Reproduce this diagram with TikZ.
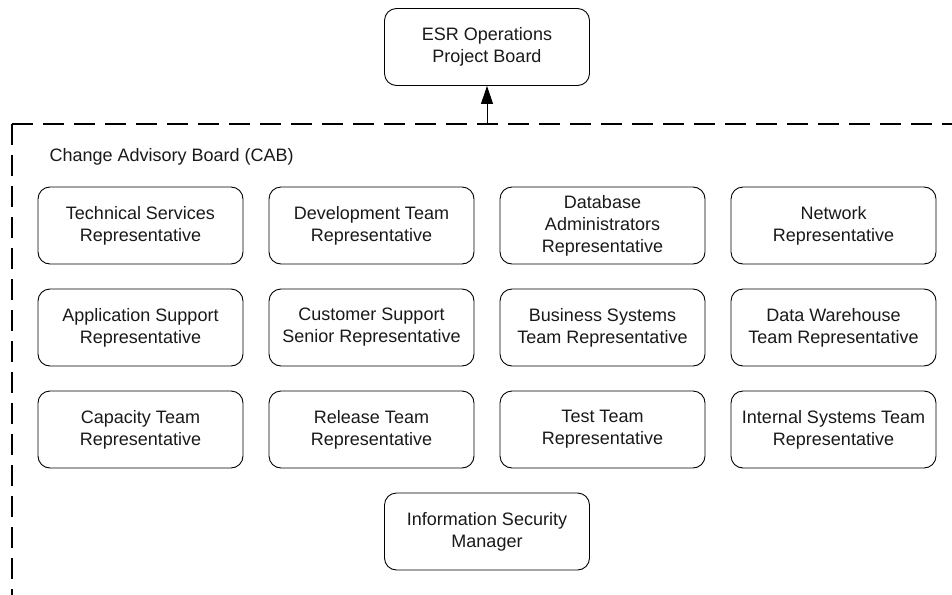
\documentclass[tikz,border=0pt]{standalone}
\usepackage{fontspec}
\setmainfont{Liberation Sans}
\usetikzlibrary{arrows.meta}
\tikzset{
  box/.style={draw=black, line width=0.9pt, rounded corners=12pt, minimum width=205pt, minimum height=77pt, inner sep=0pt, align=center, font=\fontsize{18}{22}\selectfont, text=black!90},
  frameline/.style={line width=2.8pt, dash pattern=on 21pt off 10pt},
}
\begin{document}
\begin{tikzpicture}[x=1pt,y=-1pt]
\useasboundingbox (0,0) rectangle (952,594);
\begin{scope}
\clip (0,0) rectangle (952,594);
\coordinate (corner) at (12,124);
\coordinate (farright) at (990,124);
\coordinate (farbottom) at (12,630);
\draw[frameline] (corner) -- (farright);
\draw[frameline] (corner) -- (farbottom);
\end{scope}
\node[anchor=west, font=\fontsize{18}{22}\selectfont, text=black!90] (cab) at (46,157) {Change Advisory Board (CAB)};
\node[box] (esr) at (487,47) {ESR Operations\\Project Board};
\coordinate (tap) at (487,124);
\draw[line width=0.9pt, -{Triangle[length=18pt,width=12pt]}] (tap) -- (esr.south);
\node[box] (n11) at (140.5,225.5) {Technical Services\\Representative};
\node[box] (n12) at (371.5,225.5) {Development Team\\Representative};
\node[box] (n13) at (602.5,225.5) {Database\\Administrators\\Representative};
\node[box] (n14) at (833.5,225.5) {Network\\Representative};
\node[box] (n21) at (140.5,327.5) {Application Support\\Representative};
\node[box] (n22) at (371.5,327.5) {Customer Support\\Senior Representative};
\node[box] (n23) at (602.5,327.5) {Business Systems\\Team Representative};
\node[box] (n24) at (833.5,327.5) {Data Warehouse\\Team Representative};
\node[box] (n31) at (140.5,429.5) {Capacity Team\\Representative};
\node[box] (n32) at (371.5,429.5) {Release Team\\Representative};
\node[box] (n33) at (602.5,429.5) {Test Team\\Representative};
\node[box] (n34) at (833.5,429.5) {Internal Systems Team\\Representative};
\node[box] (n41) at (487,531.5) {Information Security\\Manager};
\end{tikzpicture}
\end{document}
